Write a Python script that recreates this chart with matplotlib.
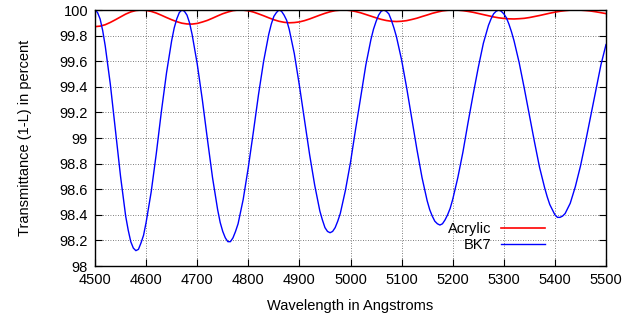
import matplotlib
matplotlib.use("Agg")
import matplotlib.pyplot as plt
from matplotlib.ticker import MultipleLocator, FuncFormatter

plt.rcParams['font.family'] = ['Liberation Sans', 'DejaVu Sans']

# Acrylic: wavelength (Angstroms) and transmittance (1-L) in percent
acrylic_wl = [
    4500, 4510, 4520, 4530, 4540, 4550, 4560, 4570, 4580, 4590,
    4600, 4610, 4620, 4630, 4640, 4650, 4660, 4670, 4680, 4690,
    4700, 4710, 4720, 4730, 4740, 4750, 4760, 4770, 4780, 4790,
    4800, 4810, 4820, 4830, 4840, 4850, 4860, 4870, 4880, 4890,
    4900, 4910, 4920, 4930, 4940, 4950, 4960, 4970, 4980, 4990,
    5000, 5010, 5020, 5030, 5040, 5050, 5060, 5070, 5080, 5090,
    5100, 5110, 5120, 5130, 5140, 5150, 5160, 5170, 5180, 5190,
    5200, 5210, 5220, 5230, 5240, 5250, 5260, 5270, 5280, 5290,
    5300, 5310, 5320, 5330, 5340, 5350, 5360, 5370, 5380, 5390,
    5400, 5410, 5420, 5430, 5440, 5450, 5460, 5470, 5480, 5490,
    5500,
]
acrylic = [
    99.870, 99.874, 99.885, 99.903, 99.924, 99.946, 99.968, 99.985, 99.996, 100.000,
    99.997, 99.989, 99.976, 99.959, 99.941, 99.924, 99.909, 99.897, 99.891, 99.890,
    99.895, 99.906, 99.919, 99.936, 99.954, 99.971, 99.984, 99.995, 100.000, 99.999,
    99.994, 99.984, 99.970, 99.955, 99.939, 99.924, 99.912, 99.904, 99.900, 99.902,
    99.907, 99.917, 99.930, 99.945, 99.960, 99.974, 99.986, 99.995, 99.999, 100.000,
    99.996, 99.988, 99.978, 99.965, 99.952, 99.939, 99.927, 99.918, 99.912, 99.910,
    99.912, 99.917, 99.926, 99.936, 99.949, 99.961, 99.974, 99.984, 99.993, 99.998,
    100.000, 99.999, 99.995, 99.989, 99.982, 99.973, 99.964, 99.955, 99.946, 99.939,
    99.934, 99.931, 99.930, 99.932, 99.935, 99.941, 99.949, 99.957, 99.966, 99.975,
    99.983, 99.990, 99.995, 99.999, 100.000, 99.999, 99.996, 99.992, 99.986, 99.979,
    99.972,
]

# BK7: denser samples around the peaks and troughs
bk7_wl = [
    4500, 4505, 4510, 4515, 4520, 4530, 4540, 4550, 4560, 4565,
    4570, 4575, 4580, 4585, 4590, 4595, 4600, 4610, 4620, 4630,
    4640, 4650, 4655, 4660, 4665, 4670, 4675, 4680, 4685, 4690,
    4700, 4710, 4720, 4730, 4740, 4745, 4750, 4755, 4760, 4765,
    4770, 4775, 4780, 4790, 4800, 4810, 4820, 4830, 4840, 4845,
    4850, 4855, 4860, 4865, 4870, 4875, 4880, 4890, 4900, 4910,
    4920, 4930, 4940, 4945, 4950, 4955, 4960, 4965, 4970, 4975,
    4980, 4990, 5000, 5010, 5020, 5030, 5040, 5045, 5050, 5055,
    5060, 5065, 5070, 5075, 5080, 5085, 5090, 5100, 5110, 5120,
    5130, 5140, 5150, 5155, 5160, 5165, 5170, 5175, 5180, 5185,
    5190, 5195, 5200, 5210, 5220, 5230, 5240, 5250, 5260, 5265,
    5270, 5275, 5280, 5285, 5290, 5295, 5300, 5305, 5310, 5315,
    5320, 5330, 5340, 5350, 5360, 5370, 5380, 5385, 5390, 5395,
    5400, 5405, 5410, 5415, 5420, 5425, 5430, 5440, 5450, 5460,
    5470, 5480, 5490, 5500,
]
bk7 = [
    100.00, 99.98, 99.93, 99.84, 99.72, 99.42, 99.06, 98.70, 98.39, 98.28,
    98.19, 98.14, 98.12, 98.13, 98.18, 98.24, 98.34, 98.58, 98.88, 99.21,
    99.51, 99.76, 99.86, 99.93, 99.98, 100.00, 99.99, 99.96, 99.90, 99.81,
    99.58, 99.30, 98.99, 98.69, 98.44, 98.34, 98.27, 98.22, 98.19, 98.19,
    98.22, 98.27, 98.33, 98.52, 98.77, 99.05, 99.34, 99.60, 99.81, 99.89,
    99.95, 99.98, 100.00, 99.99, 99.96, 99.92, 99.85, 99.66, 99.41, 99.14,
    98.87, 98.63, 98.43, 98.36, 98.30, 98.27, 98.26, 98.27, 98.30, 98.35,
    98.41, 98.59, 98.81, 99.07, 99.32, 99.57, 99.77, 99.85, 99.91, 99.96,
    99.99, 100.00, 99.99, 99.97, 99.92, 99.86, 99.79, 99.61, 99.39, 99.15,
    98.91, 98.69, 98.51, 98.44, 98.39, 98.35, 98.33, 98.32, 98.33, 98.36,
    98.40, 98.45, 98.52, 98.69, 98.89, 99.12, 99.34, 99.55, 99.74, 99.81,
    99.88, 99.93, 99.97, 99.99, 100.00, 99.99, 99.97, 99.94, 99.89, 99.83,
    99.76, 99.59, 99.39, 99.18, 98.97, 98.77, 98.61, 98.54, 98.48, 98.44,
    98.40, 98.38, 98.38, 98.39, 98.41, 98.45, 98.49, 98.62, 98.78, 98.97,
    99.17, 99.37, 99.57, 99.73,
]

fig = plt.figure(figsize=(6.37, 3.2), dpi=100)
ax = fig.add_axes([95 / 637, 54 / 320, 511 / 637, 256 / 320])

ax.plot(acrylic_wl, acrylic, color='#ff0000', lw=1.2, label='Acrylic')
ax.plot(bk7_wl, bk7, color='#0000ff', lw=1.0, label='BK7')

ax.set_xlim(4500, 5500)
ax.set_ylim(98, 100)
ax.xaxis.set_major_locator(MultipleLocator(100))
ax.yaxis.set_major_locator(MultipleLocator(0.2))
ax.yaxis.set_major_formatter(FuncFormatter(lambda v, p: '%g' % round(v, 1)))

ax.grid(True, color='#555555', linestyle=(0, (1, 2)), lw=0.6)
ax.tick_params(direction='in', length=5, width=0.8, top=True, right=True,
               labelsize=10.5, colors='black', pad=5)
for s in ax.spines.values():
    s.set_linewidth(1.0)

ax.set_xlabel('Wavelength in Angstroms', fontsize=10.5, labelpad=9)
ax.set_ylabel('Transmittance (1-L) in percent', fontsize=10.5, labelpad=20)

ax.legend(loc='lower right', bbox_to_anchor=(0.895, 0.027), frameon=False,
          markerfirst=False, fontsize=10.5, handlelength=3.0, handletextpad=0.7,
          borderpad=0, labelspacing=0.15)

fig.savefig('out.png', dpi=100)
